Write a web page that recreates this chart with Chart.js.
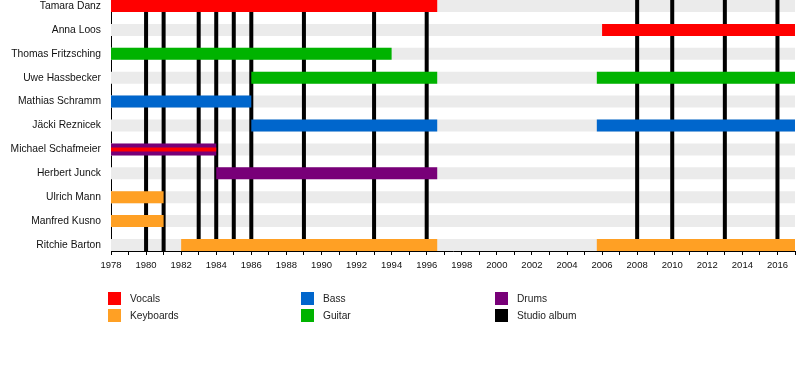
<!DOCTYPE html>
<html>
<head>
<meta charset="utf-8">
<title>Band members timeline</title>
<script src="https://cdn.jsdelivr.net/npm/chart.js@4/dist/chart.umd.min.js"></script>
<style>
  body { margin: 0; background: #fff; font-family: "Liberation Sans", Arial, sans-serif; }
  #wrap { position: relative; width: 810px; height: 370px; }
  #legend { position: absolute; left: 0; top: 0; width: 810px; height: 370px; pointer-events: none; }
  .item { position: absolute; font-size: 10.2px; color: #222; line-height: 13px; white-space: nowrap; }
  .item span.box { position: absolute; left: 0; top: 0; width: 13px; height: 13px; }
  .item span.txt { position: absolute; left: 22px; top: 0; }
</style>
</head>
<body>
<div id="wrap">
  <canvas id="timeline"></canvas>
  <div id="legend"></div>
</div>
<script>
// メンバー（上から順）
const members = [
  "Tamara Danz", "Anna Loos", "Thomas Fritzsching", "Uwe Hassbecker",
  "Mathias Schramm", "Jäcki Reznicek", "Michael Schafmeier", "Herbert Junck",
  "Ulrich Mann", "Manfred Kusno", "Ritchie Barton"
];

// 担当ごとの在籍期間 [メンバー, 開始, 終了]
const vocalsSpans = [["Tamara Danz", 1978, 1996.6], ["Anna Loos", 2006.0, 2017]];
const keyboardsSpans = [
  ["Ulrich Mann", 1978, 1981], ["Manfred Kusno", 1978, 1981],
  ["Ritchie Barton", 1982, 1996.6], ["Ritchie Barton", 2005.7, 2017]
];
const bassSpans = [
  ["Mathias Schramm", 1978, 1986], ["Jäcki Reznicek", 1986, 1996.6],
  ["Jäcki Reznicek", 2005.7, 2017]
];
const guitarSpans = [
  ["Thomas Fritzsching", 1978, 1994], ["Uwe Hassbecker", 1986, 1996.6],
  ["Uwe Hassbecker", 2005.7, 2017]
];
const drumsSpans = [["Michael Schafmeier", 1978, 1984], ["Herbert Junck", 1984, 1996.6]];
// ドラム兼ボーカル（細いライン）
const secondVocalsSpans = [["Michael Schafmeier", 1978, 1984]];

// スタジオアルバムの年
const studioAlbums = [1980, 1981, 1983, 1984, 1985, 1986, 1989, 1993, 1996, 2008, 2010, 2013, 2016];

// 軸
const startYear = 1978;
const endYear = 2017;
const labelledYears = [1978, 1980, 1982, 1984, 1986, 1988, 1990, 1992, 1994, 1996, 1998,
  2000, 2002, 2004, 2006, 2008, 2010, 2012, 2014, 2016];

// 凡例
const legendNames = ["Vocals", "Keyboards", "Bass", "Guitar", "Drums", "Studio album"];
const legendColors = ["#ff0000", "#ffa024", "#0066cc", "#00b300", "#780078", "#000000"];

const FONT = "'Liberation Sans', Arial, sans-serif";

function toBars(spans) {
  return spans.map(([name, from, to]) => ({ x: [from, to], y: members.indexOf(name) }));
}

// 灰色の行の背景
const rowBands = members.map((name, i) => ({ x: [startYear, endYear], y: i }));

// アルバムの縦線（null で区切る）
const albumPoints = [];
studioAlbums.forEach((year) => {
  albumPoints.push({ x: year, y: -0.5 }, { x: year, y: members.length - 0.5 }, { x: year, y: null });
});

const allYears = [];
for (let y = startYear; y <= endYear; y++) allYears.push(y);

const chart = new Chart(document.getElementById("timeline"), {
  type: "bar",
  data: {
    datasets: [
      { label: "rows", data: rowBands, backgroundColor: "#ebebeb", maxBarThickness: 12, order: 5 },
      {
        type: "line", label: "Studio album", data: albumPoints, indexAxis: "x",
        borderColor: "#000", borderWidth: 4, pointRadius: 0, spanGaps: false, fill: false, order: 4
      },
      { label: "Vocals", data: toBars(vocalsSpans), backgroundColor: legendColors[0], maxBarThickness: 12, order: 3 },
      { label: "Keyboards", data: toBars(keyboardsSpans), backgroundColor: legendColors[1], maxBarThickness: 12, order: 3 },
      { label: "Bass", data: toBars(bassSpans), backgroundColor: legendColors[2], maxBarThickness: 12, order: 3 },
      { label: "Guitar", data: toBars(guitarSpans), backgroundColor: legendColors[3], maxBarThickness: 12, order: 3 },
      { label: "Drums", data: toBars(drumsSpans), backgroundColor: legendColors[4], maxBarThickness: 12, order: 3 },
      { label: "Vocals 2", data: toBars(secondVocalsSpans), backgroundColor: legendColors[0], maxBarThickness: 4, order: 1 }
    ]
  },
  options: {
    indexAxis: "y",
    responsive: true,
    maintainAspectRatio: false,
    animation: false,
    layout: { padding: { top: 0, right: 15, left: 0, bottom: 0 } },
    datasets: { bar: { grouped: false, borderWidth: 0, borderSkipped: false } },
    plugins: { legend: { display: false }, tooltip: { enabled: false } },
    scales: {
      x: {
        type: "linear",
        min: startYear,
        max: endYear,
        offset: false,
        grid: { display: true, drawOnChartArea: false, tickLength: 4, tickColor: "#000", tickWidth: 1 },
        border: { display: true, color: "#000", width: 1 },
        afterBuildTicks: (scale) => { scale.ticks = allYears.map((v) => ({ value: v })); },
        afterFit: (scale) => { scale.height = 119; scale.paddingLeft = 0; scale.paddingRight = 0; },
        ticks: {
          autoSkip: false,
          maxRotation: 0,
          padding: 5,
          color: "#111",
          font: { family: FONT, size: 9.5 },
          callback: (value) => (labelledYears.includes(value) ? String(value) : "")
        }
      },
      y: {
        type: "linear",
        reverse: true,
        offset: false,
        min: -0.25,
        max: members.length - 0.75,
        grid: { display: false, drawTicks: false, offset: false },
        border: { display: true, color: "#000", width: 1 },
        afterBuildTicks: (scale) => { scale.ticks = members.map((_, i) => ({ value: i })); },
        afterFit: (scale) => { scale.width = 111; scale.paddingTop = 0; scale.paddingBottom = 0; },
        ticks: {
          padding: 10,
          color: "#111",
          font: { family: FONT, size: 10.3 },
          callback: (value) => members[value] || ""
        }
      }
    }
  }
});

// 凡例を作成（3列×2行）
function buildLegend() {
  const legend = document.getElementById("legend");
  const colX = [108, 301, 495];
  const rowY = [292, 309];
  legendNames.forEach((name, i) => {
    const item = document.createElement("div");
    item.className = "item";
    item.style.left = colX[Math.floor(i / 2)] + "px";
    item.style.top = rowY[i % 2] + "px";
    item.innerHTML = `<span class="box" style="background:${legendColors[i]}"></span><span class="txt">${name}</span>`;
    legend.appendChild(item);
  });
}

buildLegend();
</script>
</body>
</html>
